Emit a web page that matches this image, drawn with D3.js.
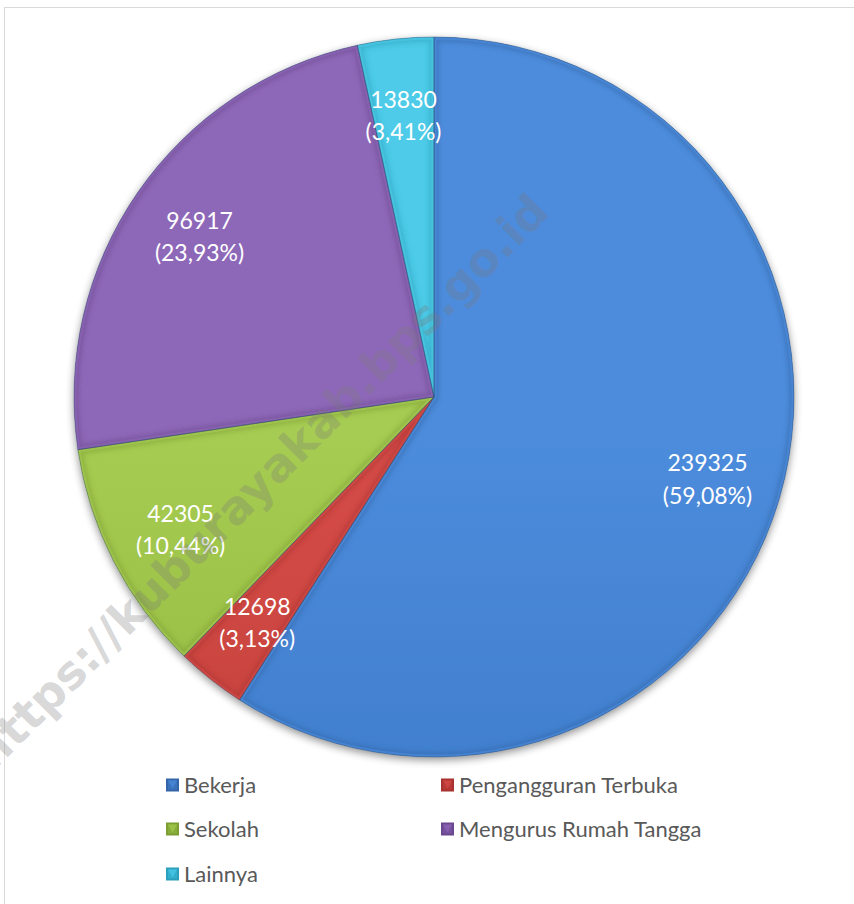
<!DOCTYPE html>
<html>
<head>
<meta charset="utf-8">
<script src="https://cdn.jsdelivr.net/npm/d3@7"></script>
<style>
  html, body { margin: 0; padding: 0; background: #fff; }
  svg { display: block; }
</style>
</head>
<body>
<svg id="chart" width="854" height="904"></svg>
<script>
const categories = ["Bekerja", "Pengangguran Terbuka", "Sekolah", "Mengurus Rumah Tangga", "Lainnya"];
const values = [239325, 12698, 42305, 96917, 13830];
const colors = ["#3f7dcc", "#c4403c", "#93b940", "#7f5aa8", "#39bcdb"];
const lightColors = ["#4d8cdc", "#d64d48", "#a6cc52", "#8e68b8", "#4dcbe8"];
const darkColors = ["#3465a8", "#a8322f", "#7c9e32", "#6a4890", "#2c9fbc"];
const watermark = "https://kuburayakab.bps.go.id";

const svg = d3.select("#chart");
const W = 854, H = 904;
const cx = 434, cy = 397, R = 360, labelR = 285;

// frame
svg.append("rect").attr("x", 4.5).attr("y", 7.5).attr("width", W + 10).attr("height", H + 10)
  .attr("fill", "#fff").attr("stroke", "#d9d9d9").attr("stroke-width", 1);

const defs = svg.append("defs");
const shadow = defs.append("filter").attr("id", "shadow").attr("x", "-20%").attr("y", "-20%").attr("width", "140%").attr("height", "140%");
shadow.append("feGaussianBlur").attr("in", "SourceAlpha").attr("stdDeviation", 4);
shadow.append("feOffset").attr("dx", 0).attr("dy", 3).attr("result", "b");
shadow.append("feComponentTransfer").append("feFuncA").attr("type", "linear").attr("slope", 0.45);
const merge = shadow.append("feMerge");
merge.append("feMergeNode");
merge.append("feMergeNode").attr("in", "SourceGraphic");

const blur = defs.append("filter").attr("id", "soft");
blur.append("feGaussianBlur").attr("stdDeviation", 2.5);

colors.forEach((c, i) => {
  const g = defs.append("linearGradient").attr("id", "grad" + i)
    .attr("gradientUnits", "userSpaceOnUse")
    .attr("x1", 0).attr("y1", cy - R).attr("x2", 0).attr("y2", cy + R);
  g.append("stop").attr("offset", "0%").attr("stop-color", lightColors[i]);
  g.append("stop").attr("offset", "55%").attr("stop-color", c);
  g.append("stop").attr("offset", "100%").attr("stop-color", darkColors[i]);
});

const total = d3.sum(values);
const pie = d3.pie().sort(null).startAngle(0).endAngle(2 * Math.PI)(values);
const arc = d3.arc().innerRadius(0).outerRadius(R);
const labelArc = d3.arc().innerRadius(labelR).outerRadius(labelR);

const pieG = svg.append("g").attr("transform", `translate(${cx},${cy})`);
const shadowG = pieG.append("g").attr("filter", "url(#shadow)");

pie.forEach((d, i) => {
  defs.append("clipPath").attr("id", "clip" + i)
    .attr("transform", `translate(${cx},${cy})`)
    .append("path").attr("d", arc(d));
});

shadowG.selectAll("path.slice").data(pie).join("path")
  .attr("class", "slice")
  .attr("d", arc)
  .attr("fill", (d, i) => `url(#grad${i})`);

// bevel: inner dark edge + light rim
const bevelG = pieG.append("g");
pie.forEach((d, i) => {
  const g = bevelG.append("g").attr("clip-path", `url(#clip${i})`)
    .attr("transform", `translate(${-cx},${-cy})`);
  g.append("path").attr("d", arc(d)).attr("transform", `translate(${cx},${cy})`)
    .attr("fill", "none").attr("stroke", darkColors[i]).attr("stroke-width", 10)
    .attr("stroke-opacity", 0.5).attr("filter", "url(#soft)");
  g.append("path").attr("d", arc(d)).attr("transform", `translate(${cx},${cy})`)
    .attr("fill", "none").attr("stroke", lightColors[i]).attr("stroke-width", 5)
    .attr("stroke-opacity", 0.6);
});
pieG.selectAll("path.edge").data(pie).join("path")
  .attr("class", "edge").attr("d", arc)
  .attr("fill", "none").attr("stroke", "#2b4a70").attr("stroke-opacity", 0.5).attr("stroke-width", 0.8);

// labels
const fmtPct = v => (v * 100).toFixed(2).replace(".", ",") + "%";
const lab = pieG.selectAll("text.lab").data(pie).join("text")
  .attr("class", "lab")
  .attr("transform", d => `translate(${labelArc.centroid(d)})`)
  .attr("text-anchor", "middle")
  .attr("font-family", "Lato, 'Open Sans', sans-serif")
  .attr("font-size", 23)
  .attr("fill", "#fff");
lab.append("tspan").attr("x", 0).attr("dy", "-0.25em").text(d => d.data);
lab.append("tspan").attr("x", 0).attr("dy", "1.4em").text(d => "(" + fmtPct(d.data / total) + ")");

// watermark
svg.append("text")
  .attr("transform", `translate(272,493) rotate(-45)`)
  .attr("text-anchor", "middle")
  .attr("font-family", "'DejaVu Sans', Verdana, sans-serif")
  .attr("font-weight", "bold")
  .attr("font-size", 46)
  .attr("textLength", 790)
  .attr("lengthAdjust", "spacingAndGlyphs")
  .attr("fill", "#7a7a7a")
  .attr("fill-opacity", 0.3)
  .text(watermark);

// legend
const legX = [166, 441], legY = [785, 829, 874];
const leg = svg.append("g");
categories.forEach((c, i) => {
  const x = legX[i % 2], y = legY[Math.floor(i / 2)];
  const g = leg.append("g").attr("transform", `translate(${x},${y})`);
  const s = 13;
  g.append("rect").attr("x", 0).attr("y", -s / 2).attr("width", s).attr("height", s)
    .attr("fill", darkColors[i]);
  g.append("path").attr("d", `M2,${-s/2+2} L${s-2},${-s/2+2} L${s/2},${s/2-3} Z`).attr("fill", lightColors[i]);
  g.append("rect").attr("x", 2).attr("y", -s / 2 + 2).attr("width", s - 4).attr("height", s - 4)
    .attr("fill", colors[i]).attr("fill-opacity", 0.55);
  g.append("text").attr("x", 18).attr("y", 0).attr("dy", "0.36em")
    .attr("font-family", "Lato, 'Open Sans', sans-serif")
    .attr("font-size", 22)
    .attr("fill", "#595959")
    .text(c);
});
</script>
</body>
</html>
